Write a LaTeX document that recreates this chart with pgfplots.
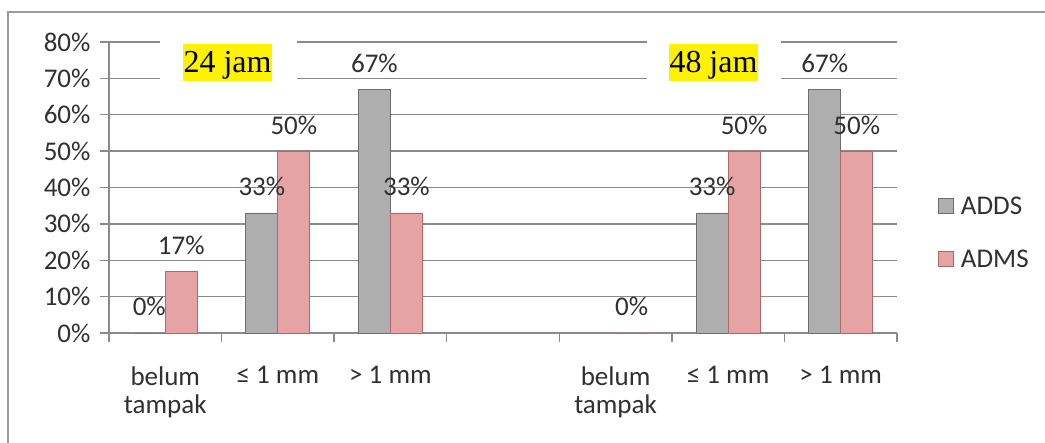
\documentclass[border=0pt]{standalone}
\usepackage{pgfplots}
\pgfplotsset{compat=1.18}
\usepackage{fontspec}
\setmainfont{Carlito}
\newfontfamily\timesfont{Liberation Serif}
\definecolor{gridgray}{HTML}{8A8A8A}
\definecolor{framegray}{HTML}{9A9A9A}
\definecolor{addsfill}{HTML}{AEAEAE}
\definecolor{addsedge}{HTML}{6E6E6E}
\definecolor{admsfill}{HTML}{E6A3A3}
\definecolor{admsedge}{HTML}{AD6A6A}
\definecolor{txt}{HTML}{303030}
% bars: flat face with darker bevelled sides
\pgfdeclarehorizontalshading{addsbar}{100bp}{color(0bp)=(addsedge); color(13bp)=(addsfill); color(87bp)=(addsfill); color(100bp)=(addsedge)}
\pgfdeclarehorizontalshading{admsbar}{100bp}{color(0bp)=(admsedge); color(13bp)=(admsfill); color(87bp)=(admsfill); color(100bp)=(admsedge)}
\newcommand\chartfont{\fontsize{27}{28}\selectfont}
\newcommand\boxfont{\timesfont\fontsize{32}{38}\selectfont}

\begin{document}
\begin{tikzpicture}[x=1pt,y=1pt]
\useasboundingbox (0,0) rectangle (1045,443);
% outer frame
\draw[framegray, line width=2pt] (8,0) -- (8,431) -- (1045,431);
\begin{axis}[
  at={(109pt,110pt)}, anchor=south west,
  scale only axis, width=788pt, height=291pt,
  xmin=-0.5, xmax=6.5, ymin=0, ymax=80,
  clip=false,
  ybar=0pt, bar width=32pt,
  axis lines*=left,
  axis line style={gridgray, line width=1.3pt},
  ymajorgrids, grid style={gridgray, line width=1.3pt},
  tick style={gridgray, line width=1.3pt},
  tick align=outside, major tick length=9pt,
  ytick={0,10,...,80},
  yticklabels={0\%,10\%,20\%,30\%,40\%,50\%,60\%,70\%,80\%},
  xtick={-0.5,0.5,...,6.5},
  x tick label as interval,
  xticklabels={belum\\tampak,≤ 1 mm,> 1 mm,{},belum\\tampak,≤ 1 mm,> 1 mm},
  xticklabel style={align=center, font=\chartfont, text=txt, anchor=north, yshift=-21pt},
  yticklabel style={font=\chartfont, text=txt, xshift=-6pt},
  /pgf/number format/assume math mode=true,
  nodes near coords={\pgfmathprintnumber{\pgfplotspointmeta}\%},
  every node near coord/.append style={font=\chartfont, text=txt, anchor=base, yshift=17pt},
  legend style={at={(1.052,0.345)}, anchor=west, draw=none, fill=none,
    font=\chartfont, text=txt, row sep=30pt, inner sep=0pt,
    nodes={inner xsep=7pt}},
  legend cell align=left,
  legend image code/.code={\draw[#1] (0pt,-7.5pt) rectangle (15pt,7.5pt);},
]
\addplot[shading=addsbar, draw=addsedge, line width=0.8pt]
  coordinates {(0,0) (1,33) (2,67) (5,33) (6,67)};
\addplot[shading=admsbar, draw=admsedge, line width=0.8pt]
  coordinates {(0,17) (1,50) (2,33) (4,0) (5,50) (6,50)};
\legend{ADDS,ADMS}
% period captions over the grid
\fill[white] (axis cs:-0.047,68) rectangle (axis cs:1.17,81);
\fill[yellow] (axis cs:0.157,69.3) rectangle (axis cs:0.948,79.45);
\node[font=\boxfont, anchor=base, inner sep=0pt] at (axis cs:0.553,71.5) {24 jam};
\fill[white] (axis cs:4.28,68) rectangle (axis cs:5.47,81);
\fill[yellow] (axis cs:4.475,69.3) rectangle (axis cs:5.265,79.45);
\node[font=\boxfont, anchor=base, inner sep=0pt] at (axis cs:4.87,71.5) {48 jam};
\end{axis}
\end{tikzpicture}
\end{document}
